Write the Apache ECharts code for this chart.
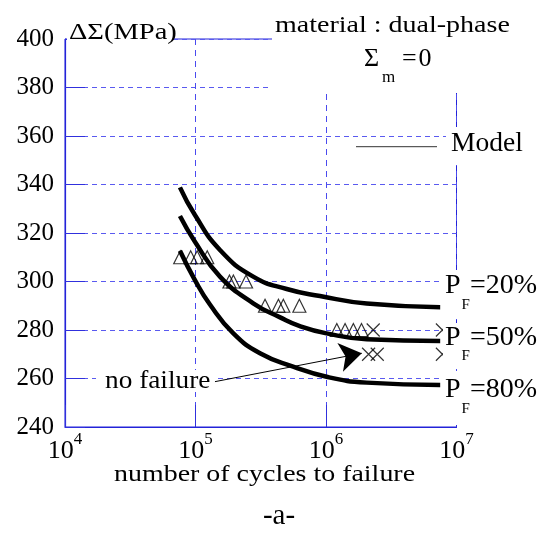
<!DOCTYPE html>
<html><head><meta charset="utf-8">
<script src="https://cdn.jsdelivr.net/npm/echarts@6/dist/echarts.min.js"></script>
<style>html,body{margin:0;padding:0;background:#fff}#c{width:542px;height:536px}</style>
</head><body><div id="c"></div>
<script>
const FONT = '"Liberation Serif", "Times New Roman", Times, serif';

// Model curves: number of cycles and stress range (MPa)
const pf20Cycles = [7.6e4, 9.9e4, 1.54e5, 2.77e5, 5.0e5, 9.0e5, 2.05e6, 7.5e6];
const pf20Stress = [338.8, 327.4, 313.0, 302.0, 296.9, 294.0, 290.9, 289.4];
const pf50Cycles = [7.6e4, 9.9e4, 1.54e5, 2.77e5, 4.45e5, 6.3e5, 1.01e6, 2.05e6, 7.5e6];
const pf50Stress = [327.0, 316.4, 302.0, 291.0, 285.2, 281.6, 278.6, 276.2, 275.5];
const pf80Cycles = [7.6e4, 9.9e4, 1.29e5, 1.95e5, 3.12e5, 5.6e5, 1.01e6, 2.05e6, 7.5e6];
const pf80Stress = [312.7, 300.6, 290.5, 278.6, 270.4, 264.9, 260.7, 258.3, 257.3];

// Experimental failures (triangles)
const failCycles = [7.64e4, 9.18e4, 1.03e5, 1.23e5, 1.82e5, 1.95e5, 2.44e5, 3.41e5, 4.32e5, 4.71e5, 6.25e5, 1.21e6, 1.40e6, 1.62e6, 1.87e6];
const failStress = [310, 310, 310, 310, 300, 300, 300, 290, 290, 290, 290, 280, 280, 280, 280];

// Run-outs, no failure (crosses)
const runCycles = [2.30e6, 7.8e6, 2.12e6, 2.47e6, 7.8e6];
const runStress = [280, 280, 270, 270, 270];

// "no failure" arrow (cycles, MPa)
const arrowFrom = [1.41e5, 258.7];
const arrowTo = [1.88e6, 270.4];

const yMin = 240, yMax = 400, yStep = 20;
const xMin = 1e4, xMax = 1e7;

const zip = (a, b) => a.map((v, i) => [v, b[i]]);

function txt(text, x, y, size, opts) {
  opts = opts || {};
  return {
    type: 'text', x: x, y: y, z: 60, silent: true, scaleX: opts.sx || 1,
    style: {
      text: text, font: size + 'px ' + FONT, fill: '#000',
      textAlign: opts.align || 'left', align: opts.align || 'left',
      textVerticalAlign: 'middle', verticalAlign: 'middle'
    }
  };
}
function cover(x, y, w, h) {
  return { type: 'rect', z: 55, silent: true, shape: { x: x, y: y, width: w, height: h }, style: { fill: '#fff' } };
}

const chart = echarts.init(document.getElementById('c'));
const curveStyle = { color: '#000', width: 4.5 };
chart.setOption({
  animation: false,
  backgroundColor: '#fff',
  grid: { left: 65, right: 85.5, top: 39, bottom: 109, show: true, borderColor: '#2323d8', borderWidth: 1, backgroundColor: 'transparent' },
  xAxis: {
    type: 'log', logBase: 10, min: xMin, max: xMax,
    axisLine: { lineStyle: { color: '#2323d8', width: 1.2 } },
    axisTick: { show: true, inside: true, length: 22, lineStyle: { color: '#3030dd' } },
    minorTick: { show: false },
    splitLine: { show: true, lineStyle: { color: '#4a4aee', type: [6, 5], width: 1 } },
    axisLabel: {
      margin: 4,
      formatter: v => '{b|10}{s|' + Math.round(Math.log10(v)) + '}',
      rich: {
        b: { fontFamily: FONT, fontSize: 26, color: '#000', verticalAlign: 'bottom' },
        s: { fontFamily: FONT, fontSize: 17, color: '#000', verticalAlign: 'bottom', padding: [0, 0, 16, 0] }
      }
    }
  },
  yAxis: {
    type: 'value', min: yMin, max: yMax, interval: yStep,
    axisLine: { show: true, lineStyle: { color: '#2323d8', width: 1.2 } },
    axisTick: { show: true, inside: true, length: 20, lineStyle: { color: '#3030dd' } },
    splitLine: { show: true, lineStyle: { color: '#5a5af0', type: [5, 4], width: 1 } },
    axisLabel: { margin: 11, fontFamily: FONT, fontSize: 25, color: '#000' }
  },
  series: [
    { type: 'line', name: 'PF20', data: zip(pf20Cycles, pf20Stress), smooth: 0.5, symbol: 'none', lineStyle: curveStyle, z: 3 },
    { type: 'line', name: 'PF50', data: zip(pf50Cycles, pf50Stress), smooth: 0.5, symbol: 'none', lineStyle: curveStyle, z: 3 },
    { type: 'line', name: 'PF80', data: zip(pf80Cycles, pf80Stress), smooth: 0.5, symbol: 'none', lineStyle: curveStyle, z: 3 },
    { type: 'scatter', name: 'failure', data: zip(failCycles, failStress), symbol: 'triangle', symbolSize: 13,
      itemStyle: { color: 'rgba(0,0,0,0)', borderColor: '#000', borderWidth: 1.2 }, z: 4 },
    { type: 'scatter', name: 'no failure', data: zip(runCycles, runStress), symbol: 'path://M0,0L10,10M10,0L0,10', symbolSize: 13,
      itemStyle: { color: 'none', borderColor: '#000', borderWidth: 1.2 }, z: 4,
      markLine: {
        silent: true, animation: false, symbol: ['none', 'arrow'], symbolSize: 22,
        label: { show: false }, lineStyle: { color: '#000', width: 1, type: 'solid' },
        emphasis: { disabled: true },
        data: [[{ coord: arrowFrom }, { coord: arrowTo }]]
      }
    }
  ],
  graphic: [
    cover(67, 12, 106, 29),
    cover(272, 0, 270, 93),
    cover(446, 127, 96, 38),
    cover(443, 270, 99, 49),
    cover(443, 323, 99, 46),
    cover(443, 371, 99, 54),
    cover(96, 370, 118, 22),
    txt('ΔΣ(MPa)', 69, 33, 23, { sx: 1.24 }),
    txt('material : dual-phase', 275, 26, 22.5, { sx: 1.245 }),
    txt('Σ', 364, 59, 26),
    txt('m', 382, 78, 17),
    txt('=', 402, 59, 26),
    txt('0', 418.5, 59, 26),
    { type: 'line', z: 60, silent: true, shape: { x1: 356, y1: 146.7, x2: 437, y2: 146.7 }, style: { stroke: '#333', lineWidth: 1 } },
    txt('Model', 451, 144, 27.5),
    txt('P', 445, 286, 28), txt('F', 461.5, 305, 15), txt('=20%', 470, 286, 28),
    txt('P', 445, 337.5, 28), txt('F', 461.5, 356, 15), txt('=50%', 470, 337.5, 28),
    txt('P', 445, 390, 28), txt('F', 461.5, 409, 15), txt('=80%', 470, 390, 28),
    txt('no failure', 105, 381, 26, { sx: 1.05 }),
    txt('number of cycles to failure', 114, 475, 23, { sx: 1.215 }),
    txt('-a-', 279, 516, 29, { align: 'center' })
  ]
});
</script></body></html>
